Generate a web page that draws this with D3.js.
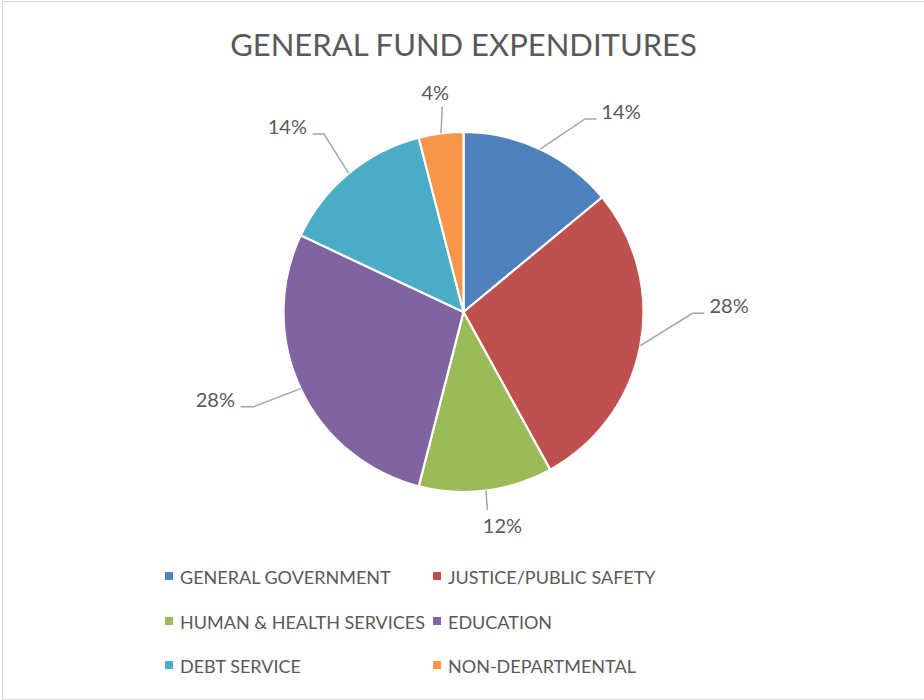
<!DOCTYPE html>
<html>
<head>
<meta charset="utf-8">
<script src="https://cdn.jsdelivr.net/npm/d3@7"></script>
<style>
  html, body { margin: 0; padding: 0; background: #fff; }
  svg { display: block; }
  text { font-family: Lato, "Open Sans", sans-serif; fill: #595959; }
</style>
</head>
<body>
<svg id="chart" width="924" height="700"></svg>
<script>
// General fund expenditures, share of total (%)
const categories = [
  "GENERAL GOVERNMENT",
  "JUSTICE/PUBLIC SAFETY",
  "HUMAN & HEALTH SERVICES",
  "EDUCATION",
  "DEBT SERVICE",
  "NON-DEPARTMENTAL"
];
const shares = [14, 28, 12, 28, 14, 4];
const colors = ["#4F81BD", "#C0504D", "#9BBB59", "#8064A2", "#4BACC6", "#F79646"];
const title = "GENERAL FUND EXPENDITURES";

// Layout
const W = 924, H = 700;
const cx = 463.5, cy = 312, R = 180;

// Data-label placement: elbow point and label point, relative to the pie centre,
// plus which side of the label point the text sits on.
const labelLayout = [
  { elbow: [121.5, -193], end: [133, -193], side: "right" },
  { elbow: [229, 1.3],    end: [241, 1.3],  side: "right" },
  { elbow: [23.8, 198],   end: [23.8, 198], side: "below" },
  { elbow: [-210, 94.7],  end: [-223, 94.7], side: "left" },
  { elbow: [-139.5, -178], end: [-151, -178], side: "left" },
  { elbow: [-21.2, -205.3], end: [-21.2, -205.3], side: "above" }
];

const svg = d3.select("#chart");

// Chart-area border
svg.append("path")
  .attr("d", `M${W},1.5 H2.5 V699.5 H${W}`)
  .attr("fill", "none")
  .attr("stroke", "#d9d9d9")
  .attr("stroke-width", 1.2);

// Title
svg.append("text")
  .attr("x", cx)
  .attr("y", 55.5)
  .attr("text-anchor", "middle")
  .attr("font-size", 31)
  .text(title);

const pie = d3.pie().sort(null).value(d => d)(shares);
const arc = d3.arc().innerRadius(0).outerRadius(R);

const g = svg.append("g").attr("transform", `translate(${cx},${cy})`);

g.selectAll("path.slice")
  .data(pie)
  .join("path")
  .attr("class", "slice")
  .attr("d", arc)
  .attr("fill", (d, i) => colors[i])
  .attr("stroke", "#fff")
  .attr("stroke-width", 2.2)
  .attr("stroke-linejoin", "round");

// Leader lines and percentage labels
const fmt = d => `${Math.round(d)}%`;
const total = d3.sum(shares);

pie.forEach((d, i) => {
  const mid = (d.startAngle + d.endAngle) / 2;
  const p0 = [Math.sin(mid) * R, -Math.cos(mid) * R];
  const L = labelLayout[i];
  const pts = [p0, L.elbow, L.end];
  g.append("path")
    .attr("d", d3.line()(pts))
    .attr("fill", "none")
    .attr("stroke", "#a6a6a6")
    .attr("stroke-width", 1.5);

  const t = g.append("text")
    .attr("font-size", 20)
    .text(fmt(d.data / total * 100));
  const [ex, ey] = L.end;
  if (L.side === "right") {
    t.attr("x", ex + 5).attr("y", ey - 0.5).attr("text-anchor", "start");
  } else if (L.side === "left") {
    t.attr("x", ex - 5.5).attr("y", ey).attr("text-anchor", "end");
  } else if (L.side === "below") {
    t.attr("x", ex - 4.5).attr("y", ey + 23).attr("text-anchor", "start");
  } else {
    t.attr("x", ex - 7).attr("y", ey - 6.5).attr("text-anchor", "middle");
  }
});

// Legend: two columns, three rows
const colX = [165, 433];
const rowY = [583.5, 628.5, 672.5];
const legend = svg.append("g");
categories.forEach((c, i) => {
  const x = colX[i % 2], y = rowY[Math.floor(i / 2)];
  legend.append("rect")
    .attr("x", x).attr("y", y - 11.5)
    .attr("width", 8).attr("height", 8)
    .attr("fill", colors[i]);
  legend.append("text")
    .attr("x", x + 15).attr("y", y)
    .attr("font-size", 18)
    .text(c);
});
</script>
</body>
</html>
